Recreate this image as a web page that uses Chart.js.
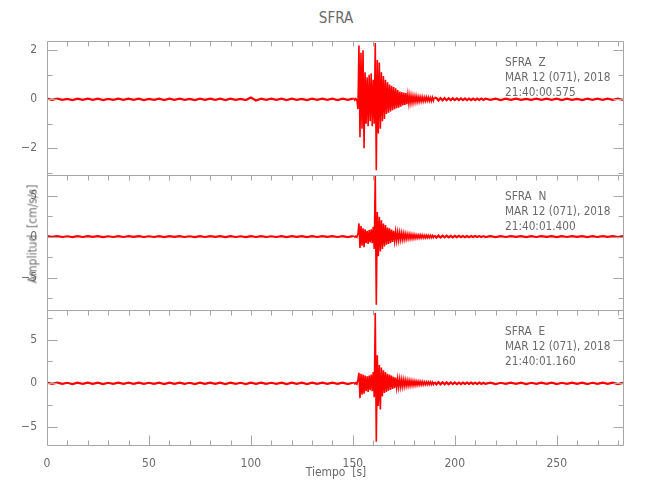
<!DOCTYPE html>
<html>
<head>
<meta charset="utf-8">
<script src="https://cdn.jsdelivr.net/npm/chart.js@4.4.0/dist/chart.umd.min.js"></script>
<style>
  html, body { margin: 0; padding: 0; background: #ffffff; }
  #wrap { position: relative; width: 650px; height: 500px; overflow: hidden; background: #fff; }
  canvas { position: absolute; left: 0; }
  .txt { position: absolute; font-family: 'DejaVu Sans Condensed', 'DejaVu Sans', sans-serif; color: #6a6a6a; white-space: pre; line-height: 1; }
</style>
</head>
<body>
<div id="wrap">
  <canvas id="cZ" width="650" height="144" style="top:36px"></canvas>
  <canvas id="cN" width="650" height="145" style="top:170px"></canvas>
  <canvas id="cE" width="650" height="195" style="top:305px"></canvas>
  <div class="txt" id="title" style="left:336px; top:11px; font-size:15px; transform:translateX(-50%);">SFRA</div>
  <div class="txt" id="ytitle" style="left:32px; top:234px; font-size:13px; transform:translate(-50%,-50%) rotate(-90deg) scaleX(0.92);">Amplitud  [cm/s/s]</div>
  <div class="txt" id="xtitle" style="left:336px; top:465px; font-size:13px; transform:translateX(-50%) scaleX(0.92);">Tiempo  [s]</div>
  <div id="notes"></div>
</div>
<script>
// ---------- sample times (s) ----------
const tNoise = [0,2.5,5,7.5,10,12.5,15,17.5,20,22.5,25,27.5,30,32.5,35,37.5,40,42.5,45,47.5,
  50,52.5,55,57.5,60,62.5,65,67.5,70,72.5,75,77.5,80,82.5,85,87.5,90,92.5,95,97.5,
  100,102.5,105,107.5,110,112.5,115,117.5,120,122.5,125,127.5,130,132.5,135,137.5,140,142.5,145,147.5,150];
const tEvent = [150.5,151,151.5,152,152.5,153,153.5,154,154.5,155,
  155.5,156,156.5,157,157.5,158,158.5,159,159.5,160,
  160.5,161,161.5,162,162.5,163,163.5,164,164.5,165,
  165.5,166,166.5,167,167.5,168,168.5,169,169.5,170,
  170.5,171,171.5,172,172.5,173,173.5,174,174.5,175,
  175.5,176,176.5,177,177.5,178,178.5,179,179.5,180,
  180.5,181,181.5,182,182.5,183,183.5,184,184.5,185,
  185.5,186,186.5,187,187.5,188,188.5,189,189.5,190];
const tCoda = [191,192,193,194,195,196,197,198,199,200,201,202,203,204,205,206,207,208,209,210,211,212,213,214,215];
const tTail = [217.5,220,222.5,225,227.5,230,232.5,235,237.5,240,242.5,245,247.5,250,252.5,255,257.5,260,262.5,265,267.5,270,272.5,275,277.5,280,282.5];

// ---------- SFRA Z (cm/s/s) ----------
const zNoise = [0.025,-0.02,0.03,-0.025,0.02,-0.03,0.025,-0.025,0.03,-0.02,
  0.025,-0.03,0.02,-0.025,0.03,-0.025,0.025,-0.02,0.03,-0.03,
  0.02,-0.025,0.025,-0.03,0.025,-0.02,0.03,-0.025,0.02,-0.03,
  0.025,-0.025,0.03,-0.02,0.025,-0.03,0.025,-0.025,0.02,-0.03,
  0.07,-0.05,0.025,-0.025,0.03,-0.02,0.025,-0.03,0.025,-0.025,
  0.02,-0.03,0.025,-0.025,0.03,-0.02,0.025,-0.03,0.025,-0.025,
  0.025];
const zEvent = [0.03,-0.04,0.03,-0.05,-0.4,2.2,-1.55,1.9,-1.2,2.0,
  -2.0,1.1,-1.0,0.9,-1.1,1.0,-0.9,1.05,-1.1,0.8,
  -1.0,2.3,-2.9,1.6,-1.4,1.5,-1.2,1.1,-0.9,0.95,
  -0.8,0.8,-0.6,0.7,-0.55,0.6,-0.5,0.55,-0.45,0.5,
  -0.4,0.45,-0.36,0.38,-0.34,0.32,-0.3,0.3,-0.25,0.27,
  -0.23,0.25,-0.2,0.2,-0.18,0.17,-0.15,0.15,-0.14,0.13,
  -0.12,0.13,-0.11,0.11,-0.1,0.1,-0.09,0.1,-0.09,0.08,
  -0.08,0.09,-0.07,0.08,-0.07,0.07,-0.07,0.08,-0.06,0.07];
const zCoda = [0.05,-0.05,0.05,-0.04,0.05,-0.04,0.04,-0.04,0.04,-0.035,0.035,-0.035,0.035,-0.03,0.035,-0.03,0.03,-0.03,0.03,-0.03,0.03,-0.025,0.03,-0.025,0.025];
const zTail = [-0.025,0.025,-0.03,0.025,-0.025,0.03,-0.025,0.02,-0.025,0.03,-0.025,0.025,-0.02,0.025,-0.03,0.025,-0.025,0.02,-0.03,0.025,-0.025,0.025,-0.02,0.03,-0.025,0.025,-0.025];

// ---------- SFRA N (cm/s/s) ----------
const nNoise = [0.05,-0.04,0.06,-0.05,0.04,-0.06,0.05,-0.05,0.06,-0.04,
  0.05,-0.06,0.04,-0.05,0.06,-0.05,0.05,-0.04,0.06,-0.05,
  0.04,-0.05,0.05,-0.06,0.05,-0.04,0.06,-0.05,0.04,-0.06,
  0.05,-0.05,0.06,-0.04,0.05,-0.06,0.05,-0.05,0.04,-0.06,
  0.05,-0.05,0.06,-0.05,0.04,-0.05,0.05,-0.06,0.05,-0.04,
  0.05,-0.06,0.05,-0.05,0.06,-0.04,0.05,-0.05,0.05,-0.06,
  0.05];
const nEvent = [0.05,-0.06,0.05,-0.08,0.3,1.6,-1.4,1.3,-1.1,1.0,
  -1.3,0.9,-0.8,0.7,-0.9,0.8,-0.7,0.9,-0.8,1.2,
  -1.5,7.6,-8.3,3.0,-2.4,2.4,-1.8,2.0,-1.5,1.6,
  -1.2,1.4,-1.0,1.1,-0.9,1.0,-0.8,0.85,-0.65,0.7,
  -0.55,0.6,-0.5,0.55,-0.45,0.5,-0.4,0.45,-0.38,0.4,
  -0.35,0.35,-0.3,0.32,-0.28,0.3,-0.26,0.27,-0.24,0.25,
  -0.22,0.22,-0.2,0.21,-0.19,0.2,-0.18,0.19,-0.17,0.17,
  -0.16,0.16,-0.15,0.15,-0.14,0.15,-0.14,0.14,-0.13,0.14];
const nCoda = [-0.12,0.12,-0.11,0.11,-0.1,0.1,-0.1,0.09,-0.09,0.09,-0.08,0.08,-0.08,0.07,-0.07,0.07,-0.07,0.06,-0.06,0.06,-0.06,0.06,-0.05,0.06,-0.05];
const nTail = [0.05,-0.06,0.05,-0.05,0.06,-0.04,0.05,-0.06,0.05,-0.05,0.06,-0.04,0.05,-0.06,0.05,-0.05,0.06,-0.04,0.05,-0.06,0.05,-0.05,0.06,-0.04,0.05,-0.06,0.05];

// ---------- SFRA E (cm/s/s) ----------
const eNoise = [0.07,-0.06,0.08,-0.07,0.06,-0.08,0.07,-0.06,0.08,-0.06,
  0.07,-0.08,0.06,-0.07,0.08,-0.06,0.07,-0.06,0.08,-0.07,
  0.06,-0.07,0.07,-0.08,0.07,-0.06,0.08,-0.07,0.06,-0.08,
  0.07,-0.06,0.08,-0.06,0.07,-0.08,0.07,-0.07,0.06,-0.08,
  0.07,-0.06,0.08,-0.07,0.06,-0.07,0.07,-0.08,0.07,-0.06,
  0.07,-0.08,0.07,-0.06,0.08,-0.06,0.07,-0.07,0.07,-0.08,
  0.07];
const eEvent = [0.07,-0.08,0.07,-0.1,0.4,1.2,-1.7,1.1,-1.3,1.0,
  -1.2,0.9,-0.9,0.8,-1.0,0.9,-0.8,1.0,-0.9,1.3,
  -1.6,8.05,-6.7,3.2,-2.6,2.1,-3.0,1.8,-1.5,1.5,
  -1.1,1.3,-1.0,1.1,-0.85,1.0,-0.75,0.9,-0.65,0.75,
  -0.55,0.65,-0.5,0.55,-0.45,0.5,-0.42,0.45,-0.38,0.42,
  -0.35,0.38,-0.32,0.34,-0.3,0.32,-0.28,0.3,-0.26,0.27,
  -0.24,0.25,-0.22,0.23,-0.2,0.21,-0.19,0.2,-0.18,0.18,
  -0.17,0.17,-0.16,0.16,-0.15,0.15,-0.14,0.15,-0.13,0.14];
const eCoda = [-0.13,0.13,-0.12,0.12,-0.11,0.11,-0.11,0.1,-0.1,0.1,-0.09,0.09,-0.09,0.09,-0.08,0.08,-0.08,0.08,-0.08,0.07,-0.07,0.08,-0.07,0.07,-0.07];
const eTail = [0.07,-0.08,0.06,-0.07,0.08,-0.06,0.07,-0.08,0.06,-0.07,0.08,-0.06,0.07,-0.08,0.06,-0.07,0.08,-0.06,0.07,-0.08,0.06,-0.07,0.08,-0.06,0.07,-0.08,0.06];

// ---------- labels ----------
const stationLabels = ['SFRA  Z', 'SFRA  N', 'SFRA  E'];
const dateLabels = ['MAR 12 (071), 2018', 'MAR 12 (071), 2018', 'MAR 12 (071), 2018'];
const startTimes = ['21:40:00.575', '21:40:01.400', '21:40:01.160'];
const xTickLabels = [0, 50, 100, 150, 200, 250];

const FONT = "'DejaVu Sans Condensed', 'DejaVu Sans', sans-serif";
const times = tNoise.concat(tEvent, tCoda, tTail);
function pts(vals) { return times.map((t, i) => ({ x: t, y: vals[i] })).filter(p => p.y !== undefined); }

const isMult = (v, s) => Math.abs(v / s - Math.round(v / s)) < 1e-6;
const minus = s => String(s).replace('-', '\u2212');

const framePlugin = {
  id: 'frame',
  afterDraw(chart, args, o) {
    const ctx = chart.ctx, a = chart.chartArea;
    const xs = chart.scales.x, ys = chart.scales.y;
    const L = Math.round(a.left) + 0.5, R = Math.round(a.right) + 0.5;
    const T = Math.round(a.top) + 0.5, B = Math.round(a.bottom) + 0.5;
    ctx.save();
    ctx.strokeStyle = '#a6a6a6';
    ctx.lineWidth = 1;
    ctx.beginPath();
    ctx.rect(L, T, R - L, B - T);
    const y0 = Math.ceil(ys.min / o.yMinor - 1e-9) * o.yMinor;
    for (let v = y0; v <= ys.max + 1e-9; v += o.yMinor) {
      const y = Math.round(ys.getPixelForValue(v)) + 0.5;
      const len = isMult(v, o.yMajor) ? 10 : 5;
      ctx.moveTo(L, y); ctx.lineTo(L + len, y);
      ctx.moveTo(R, y); ctx.lineTo(R - len, y);
    }
    for (let v = 10; v < xs.max; v += 10) {
      const x = Math.round(xs.getPixelForValue(v)) + 0.5;
      ctx.moveTo(x, T); ctx.lineTo(x, T + 5);
      if (o.bottomTicks) {
        const len = isMult(v, 50) ? 10 : 5;
        ctx.moveTo(x, B); ctx.lineTo(x, B - len);
      }
    }
    ctx.stroke();
    ctx.restore();
  }
};

function makePanel(id, vals, yMin, yMax, yMinor, yMajor, showX) {
  return new Chart(document.getElementById(id), {
    type: 'line',
    data: { datasets: [{
      data: pts(vals), borderColor: 'rgb(255,0,0)', borderWidth: 1.6, pointRadius: 0, tension: 0, fill: false,
      segment: { borderWidth: c => (c.p0.parsed.x >= 150 && c.p1.parsed.x <= 190) ? 1.6 : 2.2 }
    }] },
    options: {
      responsive: false, animation: false, devicePixelRatio: 1,
      layout: { padding: { left: 0, right: 27, top: 5, bottom: showX ? 0 : 5 } },
      plugins: { legend: { display: false }, tooltip: { enabled: false }, title: { display: false }, frame: { yMinor, yMajor, bottomTicks: showX } },
      scales: {
        x: {
          type: 'linear', min: 0, max: 282.5, display: showX,
          grid: { display: false }, border: { display: false },
          afterBuildTicks: s => { s.ticks = xTickLabels.map(v => ({ value: v })); },
          afterFit: s => { if (showX) s.height = 55; s.paddingLeft = 0; s.paddingRight = 0; s.paddingTop = 0; s.paddingBottom = 0; },
          ticks: { autoSkip: false, maxRotation: 0, padding: 4, color: '#6a6a6a', font: { family: FONT, size: 12 }, callback: v => String(v) }
        },
        y: {
          type: 'linear', min: yMin, max: yMax, position: 'left',
          grid: { display: false }, border: { display: false },
          afterFit: s => { s.width = 47; s.paddingTop = 0; s.paddingBottom = 0; s.paddingLeft = 0; s.paddingRight = 0; },
          afterBuildTicks: s => {
            const out = [];
            const v0 = Math.ceil(yMin / yMajor - 1e-9) * yMajor;
            for (let v = v0; v <= yMax + 1e-9; v += yMajor) out.push({ value: Math.round(v * 1000) / 1000 });
            s.ticks = out;
          },
          ticks: { padding: 2, color: '#6a6a6a', font: { family: FONT, size: 12 }, callback: v => minus(v) }
        }
      }
    },
    plugins: [framePlugin]
  });
}

makePanel('cZ', zNoise.concat(zEvent, zCoda, zTail), -3.09, 2.38, 1, 2, false);
makePanel('cN', nNoise.concat(nEvent, nCoda, nTail), -8.94, 7.5, 2.5, 5, false);
makePanel('cE', eNoise.concat(eEvent, eCoda, eTail), -7.07, 8.4, 2.5, 5, true);

const panelTops = [41, 175, 310];
const notes = document.getElementById('notes');
panelTops.forEach((top, i) => {
  [stationLabels[i], dateLabels[i], startTimes[i]].forEach((txt, j) => {
    const d = document.createElement('div');
    d.className = 'txt';
    d.style.left = '505px';
    d.style.top = (top + 14 + j * 15) + 'px';
    d.style.fontSize = '13px';
    d.style.transform = 'scaleX(0.9)';
    d.style.transformOrigin = 'left center';
    d.textContent = txt;
    notes.appendChild(d);
  });
});
</script>
</body>
</html>
